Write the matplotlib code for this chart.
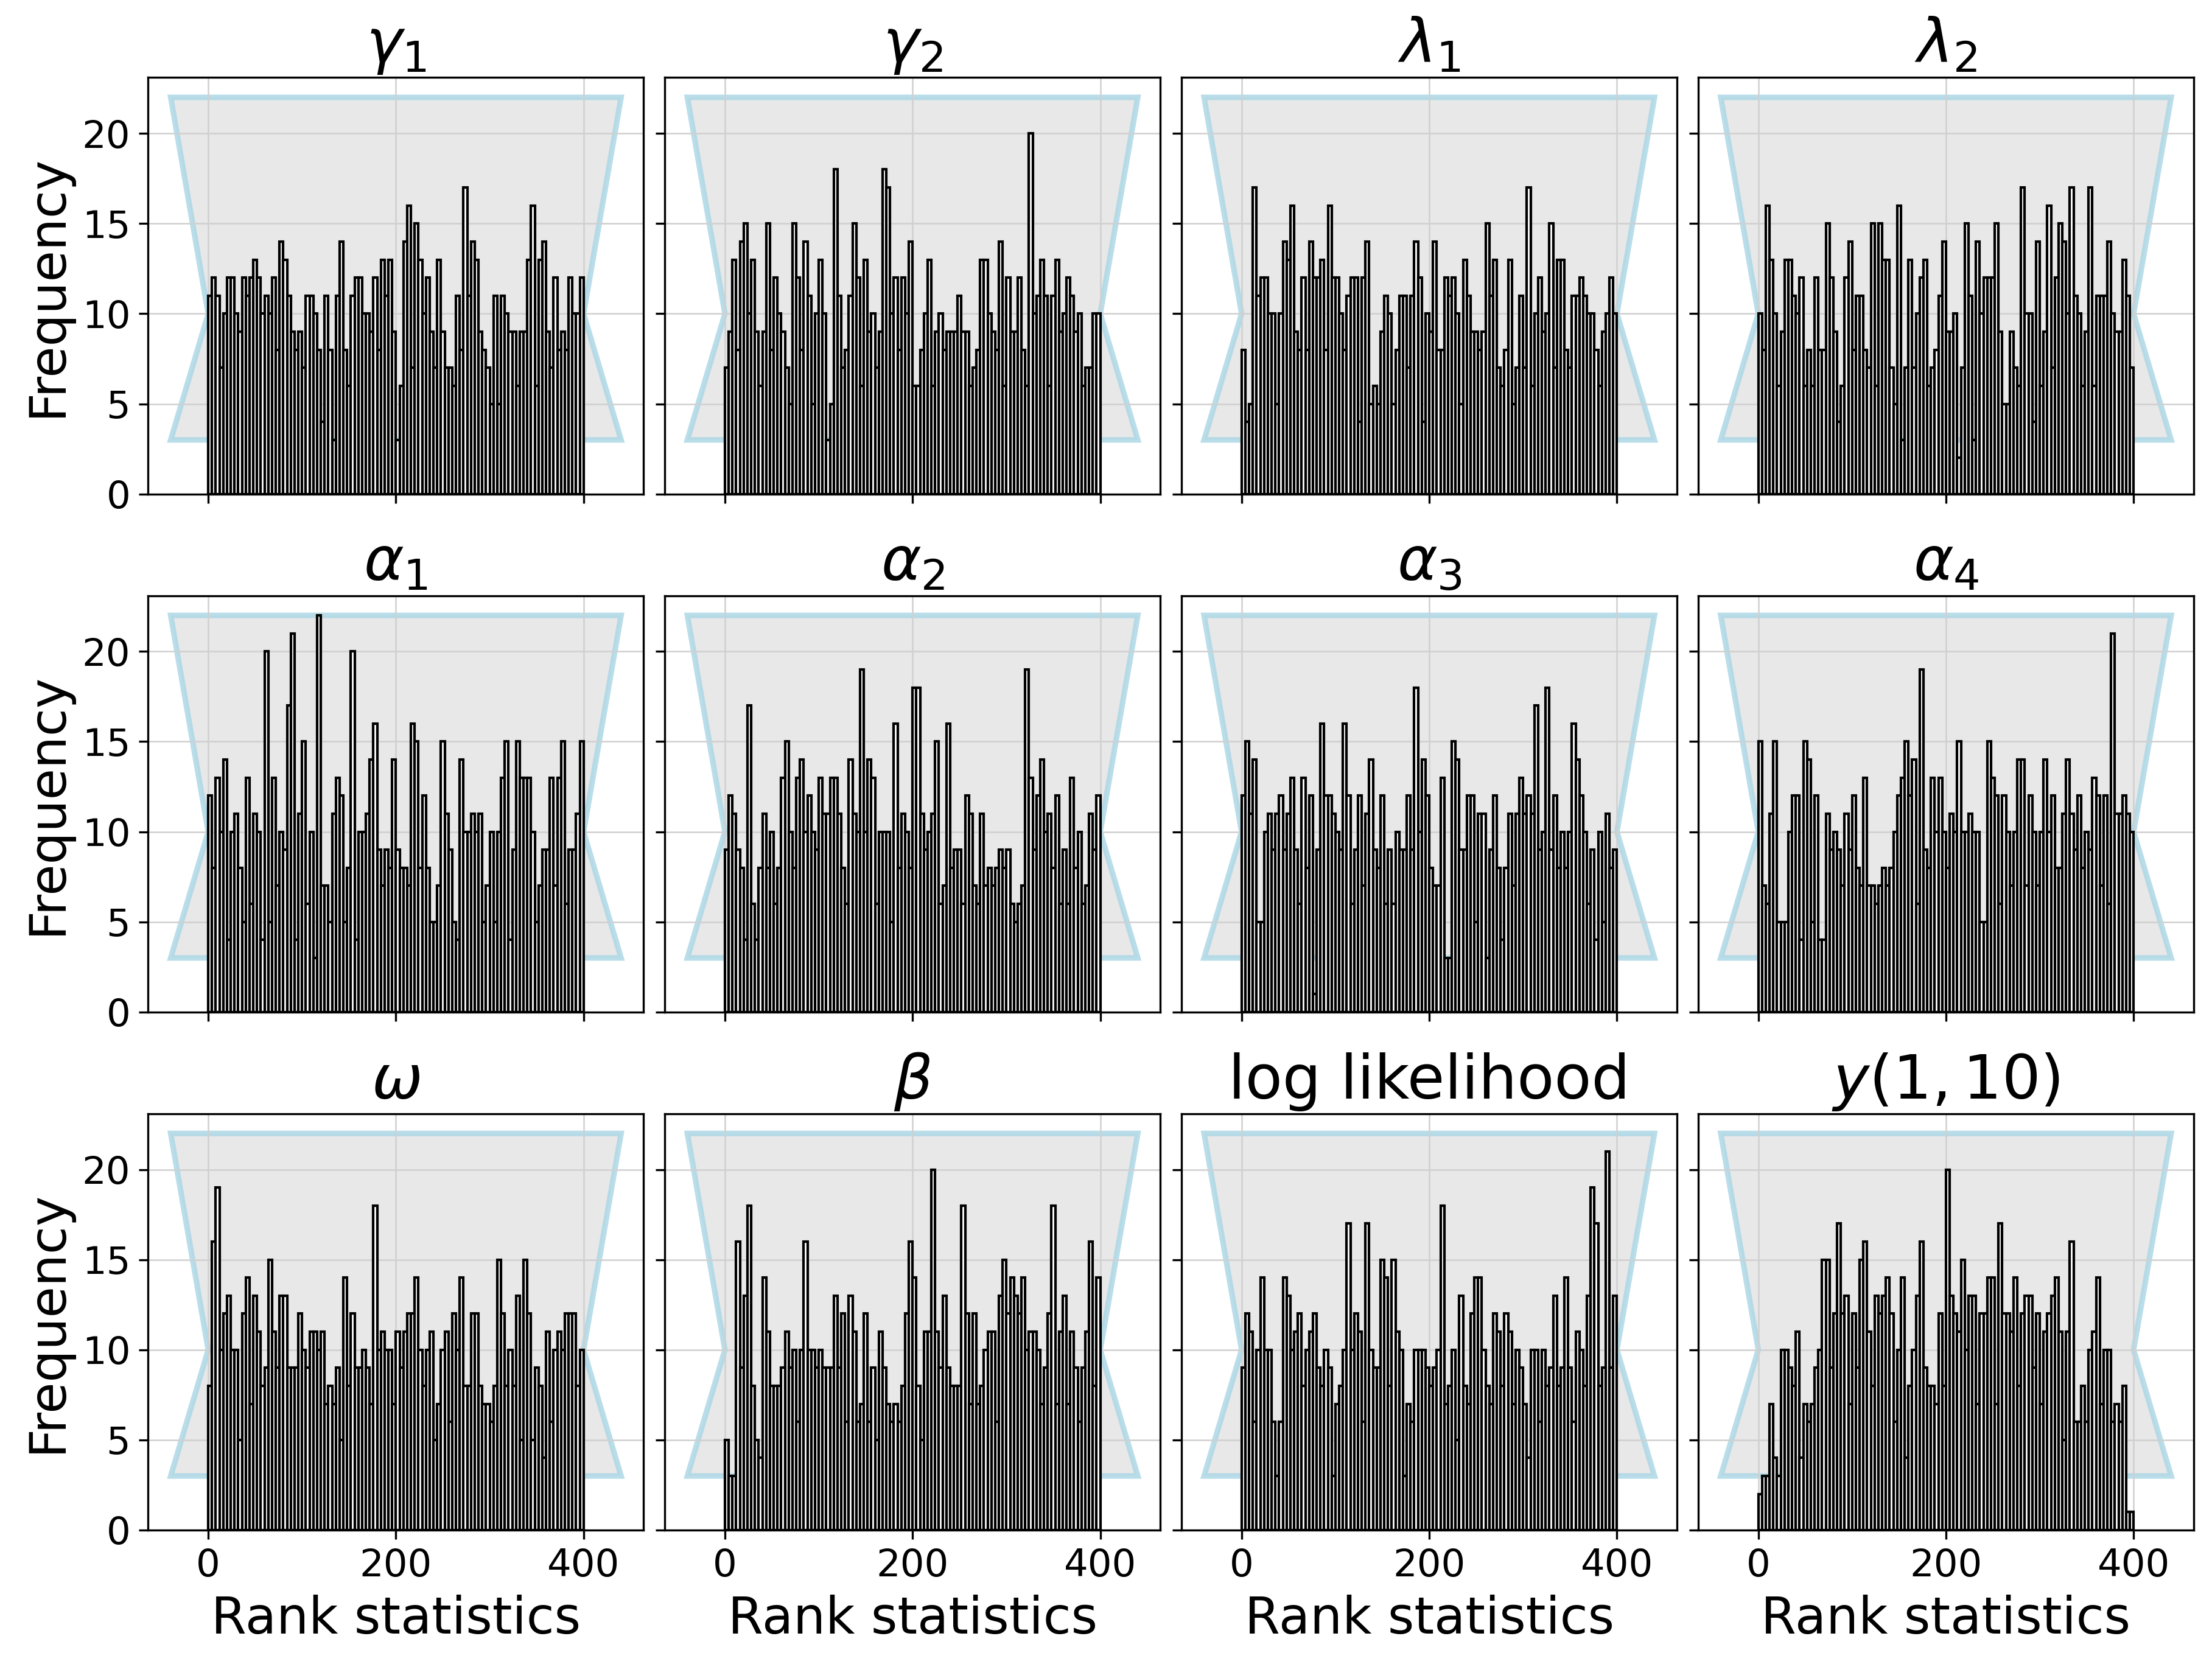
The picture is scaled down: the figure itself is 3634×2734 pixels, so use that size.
import numpy as np
import matplotlib
matplotlib.use("Agg")
import matplotlib.pyplot as plt

# ---------------- data (counts per rank bin, 100 bins of width 4 over 0..400) -------------
titles = [r"$\gamma_1$", r"$\gamma_2$", r"$\lambda_1$", r"$\lambda_2$",
          r"$\alpha_1$", r"$\alpha_2$", r"$\alpha_3$", r"$\alpha_4$",
          r"$\omega$", r"$\beta$", "log likelihood", r"$y(1,10)$"]

gamma1 = [11,12,11,7,10,12,12,10,9,12, 11,12,13,12,10,11,10,12,8,14,
          13,11,9,8,9,7,11,11,10,8, 4,11,8,3,11,14,8,6,11,12,
          12,10,10,9,12,8,13,11,13,9, 3,6,14,16,7,15,13,10,12,9,
          7,13,9,7,7,6,11,8,17,11, 14,13,9,8,7,5,11,5,11,10,
          9,9,6,9,9,13,16,6,13,14, 9,7,12,8,9,8,12,10,10,12]
gamma2 = [7,9,13,8,14,15,10,13,9,6, 9,15,8,12,10,9,7,5,15,12,
          8,14,11,5,10,13,10,3,5,18, 11,7,8,11,15,12,6,13,9,10,
          7,9,18,17,10,12,8,12,10,14, 6,6,8,10,13,6,9,10,8,9,
          9,9,11,9,9,6,7,8,13,13, 10,9,8,14,6,12,9,9,12,8,
          6,20,10,11,13,11,6,11,13,9, 10,12,11,9,10,6,7,7,10,10]
lambda1 = [8,4,5,17,11,12,12,10,10,5, 10,14,13,16,9,8,12,8,14,12,
           12,13,8,16,12,12,10,8,11,12, 12,4,12,14,5,6,5,9,11,10,
           5,8,11,11,7,11,14,12,4,10, 9,14,8,8,12,11,12,10,5,13,
           11,9,9,8,9,15,11,13,7,6, 8,13,5,7,11,7,17,6,10,12,
           9,10,15,7,13,13,8,7,11,11, 12,11,10,10,8,6,9,10,12,10]
lambda2 = [10,8,16,13,10,6,9,13,13,11, 10,12,6,8,6,12,8,8,15,12,
           9,4,6,12,14,8,11,11,8,7, 15,6,15,13,13,7,5,16,3,7,
           13,7,10,12,13,6,7,8,11,14, 9,9,10,2,7,15,11,3,14,10,
           12,12,12,15,9,5,5,9,7,6, 17,10,10,4,14,6,9,16,7,12,
           15,14,10,17,11,10,6,9,17,6, 11,11,11,14,10,9,9,13,11,7]
alpha1 = [12,8,13,10,14,4,10,11,8,5, 13,6,11,10,4,20,5,13,7,10,
          9,17,21,4,11,15,6,10,3,22, 7,7,5,11,13,12,5,8,20,4,
          10,10,11,14,16,9,7,9,8,14, 9,8,8,7,16,15,8,12,8,5,
          5,7,15,11,9,5,4,14,10,10, 11,10,11,5,7,10,5,10,13,15,
          4,9,15,13,13,13,10,5,7,9, 9,13,7,13,15,6,9,9,11,15]
alpha2 = [9,12,11,9,8,4,17,6,4,8, 11,8,10,6,8,13,15,10,8,13,
          14,10,12,10,9,13,11,11,13,13, 11,8,6,14,11,10,19,10,14,13,
          6,10,10,10,5,16,8,11,10,8, 18,18,11,9,10,11,15,6,7,16,
          8,9,9,6,12,11,7,6,11,7, 8,7,8,9,8,9,6,5,6,7,
          19,13,9,12,14,10,11,8,12,6, 9,6,13,8,10,6,7,11,9,12]
alpha3 = [12,15,11,14,5,5,10,11,9,11, 12,9,11,13,9,6,13,8,12,1,
          9,16,12,12,11,10,9,16,12,6, 9,12,7,11,14,9,8,12,6,9,
          6,10,9,9,12,9,18,10,14,12, 8,7,7,13,3,3,15,14,9,9,
          12,12,5,11,11,3,9,12,8,4, 8,11,7,11,13,11,12,11,17,9,
          10,18,9,12,8,10,8,10,16,14, 12,10,6,9,4,10,5,11,8,9]
alpha4 = [15,7,6,11,15,5,5,5,10,12, 12,4,15,14,5,12,4,4,11,9,
          10,9,7,11,9,12,8,7,13,7, 7,6,7,8,7,8,10,12,13,15,
          12,14,6,19,9,8,13,10,13,10, 8,11,10,15,10,10,11,10,10,5,
          5,15,13,12,6,12,10,7,10,14, 14,7,12,10,7,10,14,10,12,8,
          8,11,14,11,9,12,8,10,9,13, 12,7,12,6,21,11,11,12,11,10]
omega = [8,16,19,10,12,13,10,10,5,12, 14,7,13,11,8,9,15,11,9,13,
         13,9,9,9,12,10,9,11,11,10, 11,7,8,7,9,5,14,8,12,9,
         9,10,9,7,18,10,11,10,10,7, 11,9,11,12,12,14,10,8,10,11,
         5,7,10,11,6,12,10,14,8,8, 12,12,8,7,7,6,8,15,12,8,
         10,8,13,5,15,12,5,9,8,4, 11,6,10,11,10,12,12,12,8,10]
beta = [5,3,3,16,9,13,18,8,5,4, 14,11,8,8,8,9,11,9,10,6,
        10,16,10,10,9,10,9,9,9,13, 9,12,6,13,11,6,7,12,6,9,
        5,11,9,7,6,7,6,8,12,16, 14,8,5,11,11,20,11,9,13,9,
        8,8,8,18,12,7,12,7,8,10, 11,11,6,13,15,12,14,13,12,14,
        10,11,11,10,7,9,12,18,7,11, 13,7,11,9,6,9,11,16,8,14]
loglik = [9,12,11,6,10,14,10,10,6,3, 6,14,13,10,11,12,8,10,11,12,
          9,8,10,9,3,7,8,10,17,10, 12,11,6,17,10,9,9,15,14,8,
          15,11,10,3,7,6,10,10,10,9, 8,9,10,18,7,8,10,5,13,8,
          7,12,14,14,10,8,7,12,11,8, 12,11,7,10,9,7,4,10,10,6,
          10,8,9,13,8,9,14,9,6,11, 10,8,13,19,17,8,9,21,9,13]
y110 = [2,3,3,7,4,3,10,10,9,8, 11,4,7,6,7,9,10,15,15,9,
        12,17,12,13,7,12,9,15,16,11, 8,13,12,13,14,12,6,10,14,4,
        8,10,13,16,9,8,8,7,12,8, 20,13,12,11,15,10,13,13,7,12,
        12,14,14,7,17,12,12,11,14,8, 12,13,13,9,12,7,11,12,13,14,
        11,5,11,16,6,6,8,6,10,11, 14,7,10,10,6,7,6,8,1,1]

series = [gamma1, gamma2, lambda1, lambda2, alpha1, alpha2, alpha3, alpha4,
          omega, beta, loglik, y110]

rank_bin_edges = np.arange(0, 401, 4)          # 100 bins of width 4
band_x = [-40, 0, -40, 440, 400, 440]          # uniformity band polygon
band_y = [22, 10, 3, 3, 10, 22]
xtick_vals = [0, 200, 400]
ytick_vals = [0, 5, 10, 15, 20]

# ---------------- figure ----------------
fig, axes = plt.subplots(3, 4, figsize=(3634 / 300, 2734 / 300), dpi=300,
                         sharex=True, sharey=True)
fig.subplots_adjust(left=0.067, right=0.9917, bottom=0.0805, top=0.9534,
                    wspace=0.043, hspace=0.244)

band_edge = (173 / 255, 216 / 255, 230 / 255, 0.85)

for k, ax in enumerate(axes.flat):
    counts = series[k]
    ax.set_axisbelow(True)   # grid at zorder 0.5, below the bars
    ax.fill(band_x, band_y, facecolor="#e8e8e8", edgecolor=band_edge,
            linewidth=2.2, zorder=0.2)
    ax.bar(rank_bin_edges[:-1], counts, width=np.diff(rank_bin_edges), align="edge",
           facecolor="white", edgecolor="black", linewidth=1.0, zorder=1)
    ax.grid(True, color="#d0d0d0", linewidth=0.6)
    ax.set_title(titles[k], fontsize=24)
    ax.set_xticks(xtick_vals)
    ax.set_yticks(ytick_vals)
    ax.tick_params(labelsize=15)
    ax.set_xlim(-64, 464)
    ax.set_ylim(0, 23.1)
    if k % 4 == 0:
        ax.set_ylabel("Frequency", fontsize=20)
    if k >= 8:
        ax.set_xlabel("Rank statistics", fontsize=20)

fig.savefig("out.png", dpi=300)
